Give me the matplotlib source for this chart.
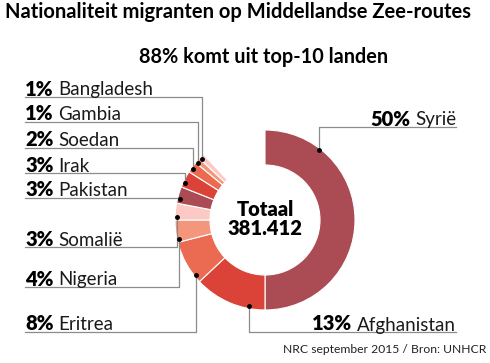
import numpy as np
import matplotlib.pyplot as plt

countries=["Syrië","Afghanistan","Eritrea","Nigeria","Somalië","Pakistan","Irak","Soedan","Gambia","Bangladesh"]
shares=[50,13,8,4,3,3,3,2,1,1]
total_text="Totaal\n381.412"

title="Nationaliteit migranten op Middellandse Zee-routes"
subtitle="88% komt uit top-10 landen"
footer="NRC september 2015 / Bron: UNHCR"

colors=["#ab4b54","#db4339","#eb6b52","#f4967b","#fcc9c4"]*2

# layout (pixels, y down)
cx,cy=265,220
r_out,ring=90,35
label_y=[127,332,332,287,247,198,173,148,122,97]
dot_frac=[0.21,0.23,0.16,0.15,0.2,0.3,0.3,0.4,0.15,0.3]
right_side=[True,True,False,False,False,False,False,False,False,False]

font="Lato"
plt.rcParams["font.family"]=[font,"DejaVu Sans"]

fig=plt.figure(figsize=(4.9,3.63),dpi=100)
ax=fig.add_axes([0,0,1,1])

ax.pie(np.array(shares)/100,normalize=False,startangle=-90,counterclock=True,
       radius=r_out,center=(cx,cy),colors=colors,
       wedgeprops=dict(width=ring,edgecolor="white",linewidth=0.8))

ax.set_xlim(0,490)
ax.set_ylim(363,0)
ax.axis("off")

starts=np.cumsum([0]+shares[:-1])*3.6
for i,name in enumerate(countries):
    a=np.radians(starts[i]+dot_frac[i]*shares[i]*3.6)
    dx=cx+88*np.sin(a)
    dy=cy-88*np.cos(a)
    ly=label_y[i]
    if right_side[i]:
        ax.plot([dx,dx,456],[dy,ly,ly],color="#8c8c8c",lw=0.9,zorder=3)
        t=ax.text(456,ly-1.5,name,ha="right",va="baseline",fontsize=13.5,color="#1a1a1a")
        ax.annotate(f"{shares[i]}%",xy=(0,0),xycoords=t,xytext=(-3.5,0),textcoords="offset points",
                    ha="right",va="bottom",fontsize=14.5,fontweight="heavy")
    else:
        ax.plot([25,dx,dx],[ly,ly,dy],color="#8c8c8c",lw=0.9,zorder=3)
        t=ax.text(25,ly-1.5,f"{shares[i]}%",ha="left",va="baseline",fontsize=14.5,fontweight="heavy")
        ax.annotate(name,xy=(1,0),xycoords=t,xytext=(3.5,0),textcoords="offset points",
                    ha="left",va="bottom",fontsize=13.5,color="#1a1a1a")
    ax.plot(dx,dy,"o",color="black",ms=2.5,zorder=4)

ax.text(5,18.3,title,ha="left",va="baseline",fontsize=14.5,fontweight="bold")
ax.text(264,63.3,subtitle,ha="center",va="baseline",fontsize=14.3,fontweight="bold")
ax.text(cx,219,total_text,ha="center",va="center",fontsize=14.5,fontweight="heavy",linespacing=1.05)
ax.text(486,353,footer,ha="right",va="baseline",fontsize=8.7,color="#222222")

fig.savefig("out.png",dpi=100)
